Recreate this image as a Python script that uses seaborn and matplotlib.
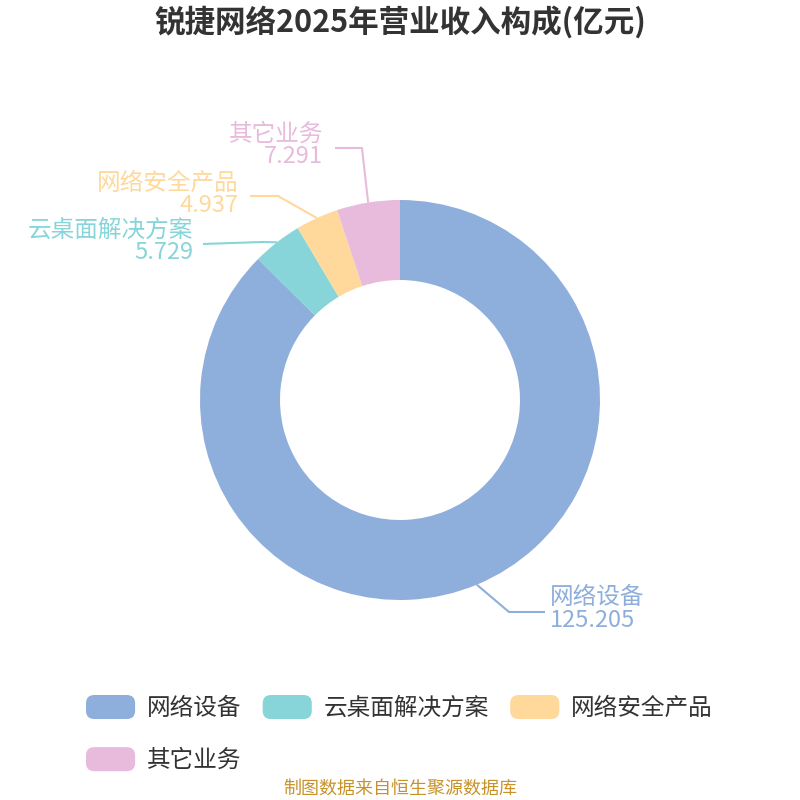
import numpy as np
import matplotlib
matplotlib.use("Agg")
import matplotlib.pyplot as plt
import seaborn as sns
from matplotlib.patches import FancyBboxPatch
from matplotlib.legend_handler import HandlerPatch
from matplotlib.patches import Patch

categories = ['网络设备', '云桌面解决方案', '网络安全产品', '其它业务']
values = [125.205, 5.729, 4.937, 7.291]
value_labels = ['125.205', '5.729', '4.937', '7.291']
colors = ['#8eaedb', '#87d5d8', '#fed99b', '#e8badb']

sns.set_theme(style='white')
plt.rcParams['font.family'] = ['Noto Sans CJK SC', 'DejaVu Sans']

W = 800


def py(y):
    # pixel y (from top) to data y
    return W - y


fig = plt.figure(figsize=(8, 8), dpi=100)
ax = fig.add_axes([0, 0, 1, 1])

cx, cy, r_out, r_in = 400, py(400), 200, 120
wedges, _ = ax.pie(
    values,
    colors=colors,
    startangle=90,
    counterclock=False,
    radius=r_out,
    center=(cx, cy),
    wedgeprops=dict(width=r_out - r_in, linewidth=0),
)
ax.set_xlim(0, W)
ax.set_ylim(0, W)
ax.set_aspect('equal')
ax.axis('off')

# label layout: elbow point, line end, text anchor, alignment
layout = [
    ((509, 612), (545, 612), (550, 609), 'left'),
    ((262, 242), (203, 244), (193, 241), 'right'),
    ((278, 196), (250, 196), (239, 194), 'right'),
    ((362, 148), (335, 148), (323, 145), 'right'),
]

for w, lab, val, col, (elb, end, txt, ha) in zip(
        wedges, categories, value_labels, colors, layout):
    ang = np.deg2rad((w.theta1 + w.theta2) / 2)
    ax0 = cx + r_out * np.cos(ang)
    ay0 = cy + r_out * np.sin(ang)
    ax.plot([ax0, elb[0], end[0]], [ay0, py(elb[1]), py(end[1])],
            color=col, lw=1.5, solid_capstyle='butt')
    ax.text(txt[0], py(txt[1]), lab + '\n' + val, color=col, fontsize=17,
            ha=ha, va='center', linespacing=0.95)

fig.text(0.5, 1 - 22 / W, '锐捷网络2025年营业收入构成(亿元)', ha='center',
         va='center', fontsize=22, fontweight='bold', color='#333333')

fig.text(0.5, 1 - 789 / W, '制图数据来自恒生聚源数据库', ha='center',
         va='center', fontsize=13, color='#c8922b')


class RoundHandler(HandlerPatch):
    def create_artists(self, legend, orig_handle, xdescent, ydescent,
                       width, height, fontsize, trans):
        p = FancyBboxPatch((-xdescent, -ydescent), width, height,
                           boxstyle='round,pad=0,rounding_size=6',
                           facecolor=orig_handle.get_facecolor(),
                           edgecolor='none', transform=trans)
        return [p]


# legend fills column by column: put the 4th item under the 1st
order = [0, 3, 1, 2]
handles = [Patch(facecolor=colors[i]) for i in order]
fig.legend(handles, [categories[i] for i in order], loc='upper left',
           bbox_to_anchor=(86 / W, 1 - 695 / W), ncol=3, frameon=False,
           fontsize=17, handlelength=2.08, handleheight=1.19,
           handletextpad=0.5, columnspacing=0.9, labelspacing=1.15,
           borderaxespad=0, borderpad=0, labelcolor='#333333',
           handler_map={Patch: RoundHandler()})

fig.savefig('out.png', dpi=100, facecolor='white')
